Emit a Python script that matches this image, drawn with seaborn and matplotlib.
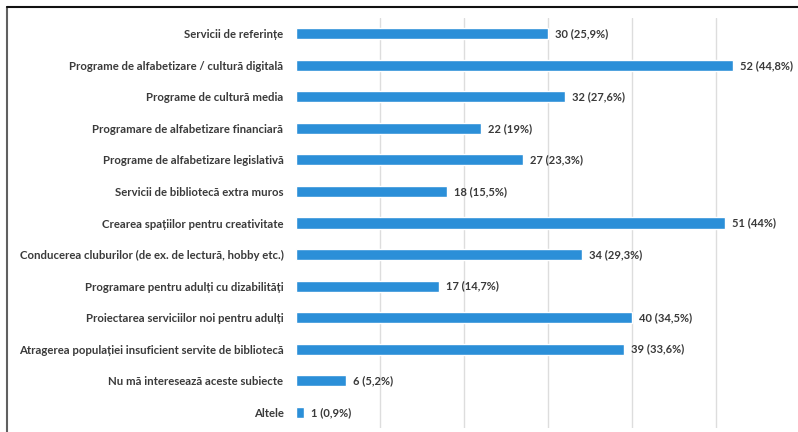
import pandas as pd
import matplotlib.pyplot as plt
import seaborn as sns
from matplotlib.lines import Line2D

# chart data
categories = [
    "Servicii de referințe",
    "Programe de alfabetizare / cultură digitală",
    "Programe de cultură media",
    "Programare de alfabetizare financiară",
    "Programe de alfabetizare legislativă",
    "Servicii de bibliotecă extra muros",
    "Crearea spațiilor pentru creativitate",
    "Conducerea cluburilor (de ex. de lectură, hobby etc.)",
    "Programare pentru adulți cu dizabilități",
    "Proiectarea serviciilor noi pentru adulți",
    "Atragerea populației insuficient servite de bibliotecă",
    "Nu mă interesează aceste subiecte",
    "Altele",
]
counts = [30, 52, 32, 22, 27, 18, 51, 34, 17, 40, 39, 6, 1]
percents = ["25,9%", "44,8%", "27,6%", "19%", "23,3%", "15,5%", "44%",
            "29,3%", "14,7%", "34,5%", "33,6%", "5,2%", "0,9%"]

df = pd.DataFrame({"Categorie": categories, "Raspunsuri": counts})

sns.set_style("white")
plt.rcParams["font.family"] = ["Lato", "DejaVu Sans"]

fig = plt.figure(figsize=(7.98, 4.32), dpi=100)
ax = fig.add_axes([296 / 798, 4 / 432, 500 / 798, 410 / 432])

sns.barplot(data=df, x="Raspunsuri", y="Categorie", orient="h",
            color="#2B8FD8", saturation=1, width=0.35, ax=ax, zorder=2)

# value labels
labels = [f"{c} ({p})" for c, p in zip(counts, percents)]
ax.bar_label(ax.containers[0], labels=labels, padding=5,
             fontsize=8, fontweight="bold", color="#3A3A3A")

# vertical gridlines
ax.set_xlim(0, 59.5)
ax.set_xticks([10, 20, 30, 40, 50])
ax.grid(axis="x", color="#DDDDDD", linewidth=1, zorder=0)
ax.tick_params(axis="x", length=0, labelbottom=False)
ax.tick_params(axis="y", length=0, pad=9, labelsize=8.2, labelcolor="#3A3A3A")
for lbl in ax.get_yticklabels():
    lbl.set_fontweight("bold")
ax.set_xlabel("")
ax.set_ylabel("")
sns.despine(ax=ax, left=True, bottom=True)

# frame around the picture (top and left only)
fig.add_artist(Line2D([6.5 / 798, 6.5 / 798], [0, 1 - 7 / 432],
                      transform=fig.transFigure, color="#606060", linewidth=1.5))
fig.add_artist(Line2D([6.5 / 798, 1], [1 - 7 / 432, 1 - 7 / 432],
                      transform=fig.transFigure, color="#111111", linewidth=1.5))

plt.savefig("out.png", dpi=100)
plt.close()
